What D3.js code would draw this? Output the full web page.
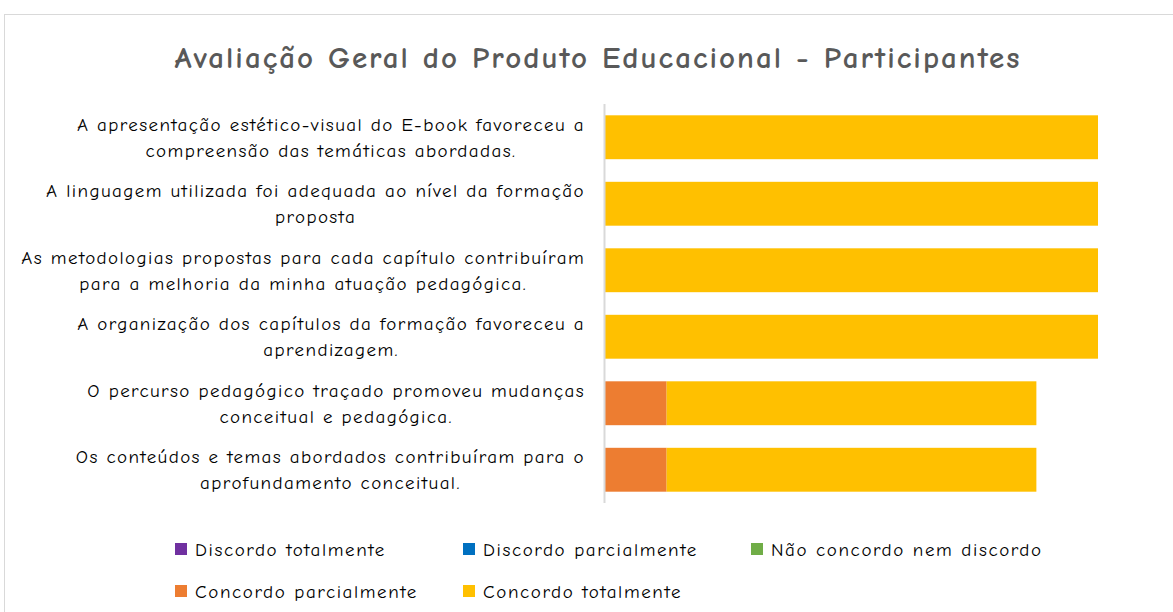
<!DOCTYPE html>
<html>
<head>
<meta charset="utf-8">
<script src="https://cdn.jsdelivr.net/npm/d3@7"></script>
<style>
  body { margin: 0; background: #fff; }
  text { font-family: "Comic Sans MS", "Comic Neue", Lato, "DejaVu Sans", sans-serif; }
</style>
</head>
<body>
<div id="graf"></div>
<script>
// Categories (top to bottom), each split into wrapped lines
var categories = [
  ["A apresentação estético-visual do E-book favoreceu a", "compreensão das temáticas abordadas."],
  ["A linguagem utilizada foi adequada ao nível da formação", "proposta"],
  ["As metodologias propostas para cada capítulo contribuíram", "para a melhoria da minha atuação pedagógica."],
  ["A organização dos capítulos da formação favoreceu a", "aprendizagem."],
  ["O percurso pedagógico traçado promoveu mudanças", "conceitual e pedagógica."],
  ["Os conteúdos e temas abordados contribuíram para o", "aprofundamento conceitual."]
];
var seriesNames = ["Discordo totalmente", "Discordo parcialmente", "Não concordo nem discordo",
  "Concordo parcialmente", "Concordo totalmente"];
var discordoTotal = [0, 0, 0, 0, 0, 0];
var discordoParcial = [0, 0, 0, 0, 0, 0];
var neutro = [0, 0, 0, 0, 0, 0];
var concordoParcial = [0, 0, 0, 0, 1, 1];
var concordoTotal = [8, 8, 8, 8, 6, 6];
var colors = ["#7030A0", "#0070C0", "#70AD47", "#ED7D31", "#FFC000"];
var title = "Avaliação Geral do Produto Educacional - Participantes";

const W = 1173, H = 612;
const svg = d3.select("#graf").append("svg")
  .attr("width", W).attr("height", H);

// chart frame
svg.append("rect")
  .attr("x", 4.5).attr("y", 14.5)
  .attr("width", W + 10).attr("height", H + 10)
  .attr("fill", "none").attr("stroke", "#d9d9d9");

svg.append("text")
  .attr("x", 598).attr("y", 68)
  .attr("text-anchor", "middle")
  .attr("font-size", 31).attr("font-weight", "bold")
  .attr("letter-spacing", "2px")
  .attr("fill", "#595959")
  .text(title);

const plot = { left: 605, right: 1098, top: 104, bottom: 503 };

const rows = categories.map((c, i) => ({
  idx: i,
  values: [discordoTotal[i], discordoParcial[i], neutro[i], concordoParcial[i], concordoTotal[i]]
}));

const x = d3.scaleLinear().domain([0, 8]).range([plot.left, plot.right]);
const y = d3.scaleBand().domain(d3.range(categories.length))
  .range([plot.top, plot.bottom]).paddingInner(0.34).paddingOuter(0.17);

const stack = d3.stack().keys(d3.range(seriesNames.length)).value((d, k) => d.values[k]);
const layers = stack(rows);

svg.append("g").selectAll("g").data(layers).join("g")
  .attr("fill", (d, i) => colors[i])
  .selectAll("rect").data(d => d).join("rect")
  .attr("x", d => x(d[0]))
  .attr("width", d => x(d[1]) - x(d[0]))
  .attr("y", d => y(d.data.idx))
  .attr("height", y.bandwidth());

// vertical category axis line
svg.append("line")
  .attr("x1", plot.left - 0.5).attr("x2", plot.left - 0.5)
  .attr("y1", plot.top).attr("y2", plot.bottom)
  .attr("stroke", "#d9d9d9").attr("stroke-width", 2);

// category labels, centered within wrapped box ending at right edge
const labelRight = 585;
const lab = svg.append("g").attr("font-size", 19).attr("letter-spacing", "1.4px").attr("fill", "#000");
categories.forEach((lines, i) => {
  const widths = lines.map(l => {
    const t = lab.append("text").text(l);
    const w = t.node().getComputedTextLength();
    t.remove();
    return w;
  });
  const maxW = d3.max(widths);
  const cx = labelRight - maxW / 2;
  const cy = y(i) + y.bandwidth() / 2;
  lines.forEach((l, j) => {
    lab.append("text")
      .attr("x", cx)
      .attr("y", cy + (j - (lines.length - 1) / 2) * 26)
      .attr("dy", "0.35em")
      .attr("text-anchor", "middle")
      .text(l);
  });
});

// legend
const legendPos = [[175, 549], [463, 549], [751, 549], [175, 591], [463, 591]];
const lg = svg.append("g").attr("font-size", 19).attr("letter-spacing", "1.6px");
seriesNames.forEach((n, i) => {
  const [lx, ly] = legendPos[i];
  lg.append("rect").attr("x", lx).attr("y", ly - 6).attr("width", 12).attr("height", 12)
    .attr("fill", colors[i]);
  lg.append("text").attr("x", lx + 20).attr("y", ly).attr("dy", "0.35em")
    .attr("fill", "#000").text(n);
});
</script>
</body>
</html>
